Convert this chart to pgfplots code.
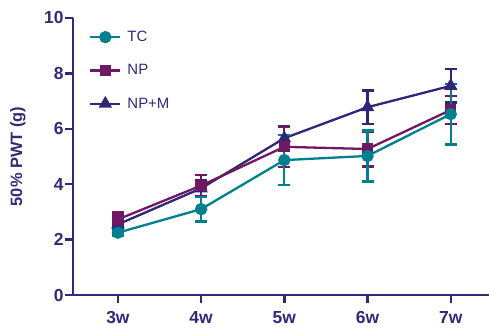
\documentclass[border=0pt]{standalone}
\usepackage{pgfplots}
\pgfplotsset{compat=1.18}
\usepackage{fontspec}
\setmainfont{Liberation Sans}[BoldFont={Liberation Sans Bold}]
\definecolor{tccol}{RGB}{0,128,142}
\definecolor{npcol}{RGB}{112,24,100}
\definecolor{npmcol}{RGB}{48,38,120}
\definecolor{axcol}{RGB}{50,42,120}
\begin{document}
\begin{tikzpicture}
\useasboundingbox (-73bp,-33bp) rectangle (416bp,295bp);
\begin{axis}[
  at={(0,0)}, anchor=south west,
  scale only axis, width=416bp, height=277bp,
  xmin=2.46, xmax=7.46, ymin=0, ymax=10,
  axis lines*=left,
  axis line style={axcol, line width=2.8bp, -},
  xtick={3,4,5,6,7}, xticklabels={3w,4w,5w,6w,7w},
  ytick={0,2,4,6,8,10},
  tick align=outside, major tick length=8bp,
  tick style={axcol, line width=2.4bp},
  /pgf/number format/assume math mode=true,
  tick label style={font=\fontsize{17.5}{17.5}\selectfont\bfseries, text=axcol},
  xticklabel style={yshift=-5bp},
  yticklabel style={xshift=2bp},
  ylabel={\fontsize{16.5}{16.5}\selectfont\bfseries 50\% PWT (g)},
  ylabel style={text=axcol, at={(-55bp,0.5)}, anchor=center, rotate=0},
  legend style={draw=none, fill=none, at={(13bp,268bp)}, anchor=north west,
    font=\fontsize{15}{15}\selectfont, text=axcol, row sep=17.5bp,
    legend cell align=left},
  legend image code/.code={\draw[#1, line width=2.3bp, mark repeat=2, mark phase=2] plot coordinates {(0bp,0bp) (15bp,0bp) (30bp,0bp)};},
  reverse legend,
  clip=false,
  every axis plot/.append style={line width=2.3bp},
  error bars/error bar style={line width=2.2bp},
  error bars/error mark options={rotate=90, mark size=6bp, line width=2.2bp},
]
\addplot[npmcol, mark=triangle*, mark size=5.5bp, error bars/.cd, y dir=both, y explicit]
  coordinates {(3,2.55) +- (0,0.15) (4,3.85) +- (0,0.3) (5,5.66) +- (0,0.45) (6,6.78) +- (0,0.6) (7,7.55) +- (0,0.6)};
\addlegendentry{\hspace{4bp}NP+M}
\addplot[npcol, mark=square*, mark size=4.5bp, error bars/.cd, y dir=both, y explicit]
  coordinates {(3,2.73) +- (0,0.25) (4,3.95) +- (0,0.38) (5,5.35) +- (0,0.72) (6,5.27) +- (0,0.63) (7,6.68) +- (0,0.5)};
\addlegendentry{\hspace{4bp}NP}
\addplot[tccol, mark=*, mark size=5bp, error bars/.cd, y dir=both, y explicit]
  coordinates {(3,2.25) +- (0,0.1) (4,3.1) +- (0,0.45) (5,4.87) +- (0,0.9) (6,5.02) +- (0,0.92) (7,6.53) +- (0,1.1)};
\addlegendentry{\hspace{4bp}TC}
\end{axis}
\end{tikzpicture}
\end{document}
